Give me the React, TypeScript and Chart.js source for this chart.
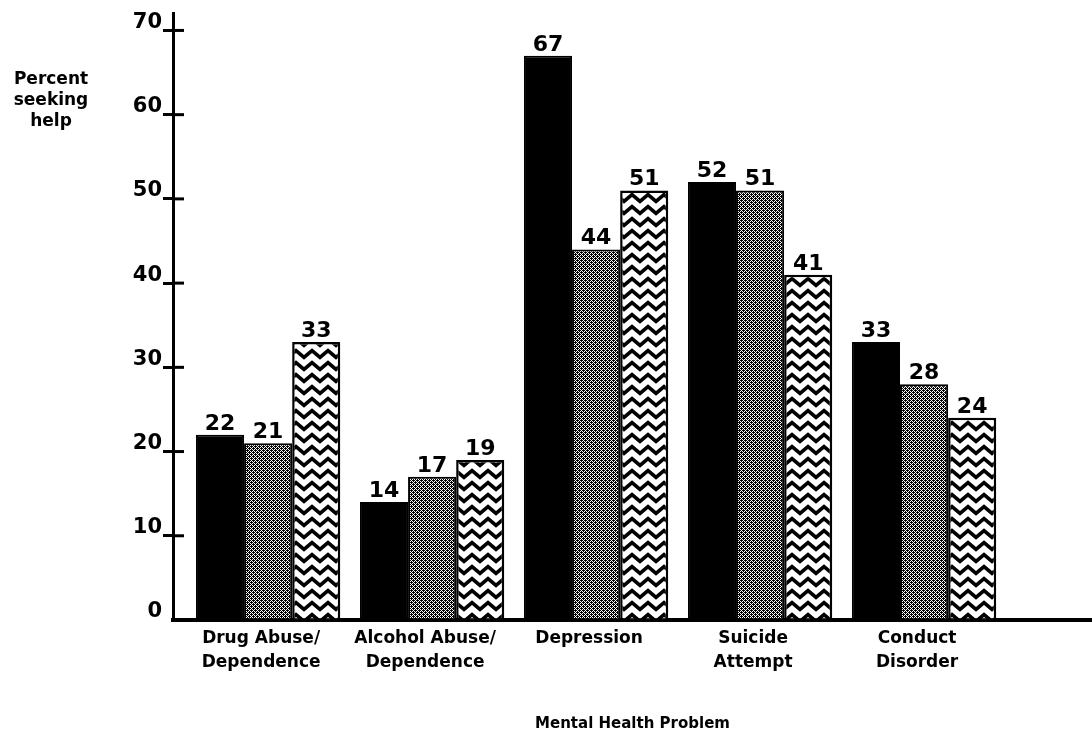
import React, { useEffect, useRef } from 'react';
import { Chart, registerables } from 'chart.js';

Chart.register(...registerables);

// ---- data ----
const CATEGORIES: string[][] = [
  ['Drug Abuse/', 'Dependence'],
  ['Alcohol Abuse/', 'Dependence'],
  ['Depression'],
  ['Suicide', 'Attempt'],
  ['Conduct', 'Disorder'],
];
const SERIES_BLACK = [22, 14, 67, 52, 33];
const SERIES_STIPPLE = [21, 17, 44, 51, 28];
const SERIES_ZIGZAG = [33, 19, 51, 41, 24];
const Y_TICKS = [0, 10, 20, 30, 40, 50, 60, 70];
const Y_TITLE = ['Percent', 'seeking', 'help'];
const X_TITLE = 'Mental Health Problem';

const FONT = '"DejaVu Sans", "Liberation Sans", sans-serif';

function makeStipple(): CanvasPattern | string {
  const c = document.createElement('canvas');
  c.width = 4;
  c.height = 4;
  const g = c.getContext('2d');
  if (!g) return '#777';
  g.fillStyle = '#fff';
  g.fillRect(0, 0, 4, 4);
  g.fillStyle = '#000';
  for (let y = 0; y < 4; y++) {
    for (let x = 0; x < 4; x++) {
      if ((x + y) % 2 === 0 || (x === 1 && y === 0) || (x === 3 && y === 2)) {
        g.fillRect(x, y, 1, 1);
      }
    }
  }
  return g.createPattern(c, 'repeat') || '#777';
}

function makeZigzag(): CanvasPattern | string {
  const c = document.createElement('canvas');
  c.width = 16;
  c.height = 12;
  const g = c.getContext('2d');
  if (!g) return '#fff';
  g.fillStyle = '#fff';
  g.fillRect(0, 0, 16, 12);
  g.strokeStyle = '#000';
  g.lineWidth = 3.6;
  g.lineJoin = 'miter';
  g.beginPath();
  g.moveTo(-8, 2.6);
  g.lineTo(0, 9.4);
  g.lineTo(8, 2.6);
  g.lineTo(16, 9.4);
  g.lineTo(24, 2.6);
  g.stroke();
  return g.createPattern(c, 'repeat') || '#fff';
}

const decorPlugin = {
  id: 'decor',
  afterDatasetsDraw(chart: any) {
    const ctx = chart.ctx;
    ctx.save();
    ctx.fillStyle = '#000';
    ctx.font = `bold 22px ${FONT}`;
    ctx.textAlign = 'center';
    ctx.textBaseline = 'alphabetic';
    chart.data.datasets.forEach((ds: any, di: number) => {
      const meta = chart.getDatasetMeta(di);
      meta.data.forEach((el: any, i: number) => {
        const v = ds.data[i].y;
        ctx.fillText(String(v), el.x, el.y - 5);
      });
    });
    ctx.restore();
  },
  afterDraw(chart: any) {
    const ctx = chart.ctx;
    const yScale = chart.scales.y;
    const left = chart.chartArea.left;
    ctx.save();
    ctx.strokeStyle = '#000';
    ctx.lineWidth = 3;
    Y_TICKS.forEach((v) => {
      if (v === 0) return;
      const py = yScale.getPixelForValue(v);
      ctx.beginPath();
      ctx.moveTo(left, py);
      ctx.lineTo(left + 11, py);
      ctx.stroke();
    });
    ctx.fillStyle = '#000';
    ctx.font = `bold 17px ${FONT}`;
    ctx.textAlign = 'center';
    ctx.textBaseline = 'middle';
    Y_TITLE.forEach((t, i) => ctx.fillText(t, 51, 80 + i * 21));
    ctx.restore();
  },
};

export default function App() {
  const canvasRef = useRef<HTMLCanvasElement | null>(null);

  useEffect(() => {
    const canvas = canvasRef.current;
    if (!canvas) return;
    const stipple = makeStipple();
    const zigzag = makeZigzag();
    const toPoints = (arr: number[]) => arr.map((v, i) => ({ x: i, y: v }));

    const chart = new Chart(canvas, {
      type: 'bar',
      data: {
        datasets: [
          {
            label: 'Series 1',
            data: toPoints(SERIES_BLACK),
            backgroundColor: '#000',
            borderColor: '#000',
            borderWidth: 2,
          },
          {
            label: 'Series 2',
            data: toPoints(SERIES_STIPPLE),
            backgroundColor: stipple as any,
            borderColor: '#000',
            borderWidth: 2,
          },
          {
            label: 'Series 3',
            data: toPoints(SERIES_ZIGZAG),
            backgroundColor: zigzag as any,
            borderColor: '#000',
            borderWidth: 2.5,
          },
        ],
      },
      options: {
        responsive: false,
        animation: false,
        devicePixelRatio: 1,
        layout: { padding: { top: 8, right: 0, left: 0, bottom: 0 } },
        datasets: {
          bar: { categoryPercentage: 0.88, barPercentage: 1, borderSkipped: 'start' },
        },
        plugins: {
          legend: { display: false },
          tooltip: { enabled: false },
          title: { display: false },
        },
        scales: {
          x: {
            type: 'linear',
            offset: false,
            min: -0.58,
            max: 5.024,
            grid: { display: false, drawTicks: false, offset: false },
            border: { display: true, color: '#000', width: 4 },
            afterBuildTicks: (scale: any) => {
              scale.ticks = CATEGORIES.map((_, i) => ({ value: i }));
            },
            afterFit: (scale: any) => {
              scale.height = 115;
            },
            ticks: {
              autoSkip: false,
              maxRotation: 0,
              minRotation: 0,
              padding: 6,
              labelOffset: -7,
              color: '#000',
              font: { family: FONT, size: 17, weight: 'bold', lineHeight: 1.45 },
              callback: (value: any) => CATEGORIES[value as number] || '',
            },
            title: {
              display: true,
              text: X_TITLE,
              color: '#000',
              font: { family: FONT, size: 15, weight: 'bold' },
              padding: { top: 0, bottom: 2 },
            },
          },
          y: {
            type: 'linear',
            min: 0,
            max: 72,
            afterBuildTicks: (scale: any) => {
              scale.ticks = Y_TICKS.map((v) => ({ value: v }));
            },
            afterFit: (scale: any) => {
              scale.width = 173;
            },
            grid: {
              display: true,
              drawOnChartArea: false,
              drawTicks: true,
              tickLength: 10,
              lineWidth: 3,
              color: '#000',
              tickColor: (ctx: any) => (ctx.tick && ctx.tick.value === 0 ? 'rgba(0,0,0,0)' : '#000'),
            },
            border: { display: true, color: '#000', width: 3 },
            ticks: {
              padding: 1,
              labelOffset: -8,
              color: '#000',
              font: { family: FONT, size: 21, weight: 'bold' },
              callback: (value: any) => String(value),
            },
          },
        },
      },
      plugins: [decorPlugin],
    } as any);

    return () => {
      chart.destroy();
    };
  }, []);

  return (
    <div style={{ position: 'fixed', left: 0, top: 0, width: 1092, height: 735, background: '#fff' }}>
      <canvas ref={canvasRef} width={1092} height={735} style={{ display: 'block' }} />
    </div>
  );
}
